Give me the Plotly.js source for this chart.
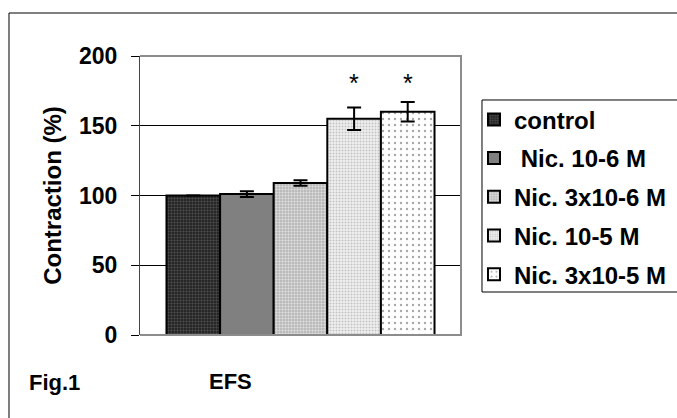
<!DOCTYPE html>
<html>
<head>
<meta charset="utf-8">
<script src="https://cdn.plot.ly/plotly-3.0.1.min.js"></script>
<style>
  html, body { margin: 0; padding: 0; background: #ffffff; overflow: hidden; }
  #wrap { width: 677px; height: 418px; overflow: hidden; position: relative; }
  #chart { width: 690px; height: 418px; }
</style>
</head>
<body>
<div id="wrap"><div id="chart"></div></div>
<script>
// ---- data ----
const categories = ['EFS'];
const seriesNames = ['control', '\u00a0Nic. 10-6 M', 'Nic. 3x10-6 M', 'Nic. 10-5 M', 'Nic. 3x10-5 M'];
const values = [100, 101, 109, 155, 160];
const errors = [0, 2, 2, 8, 7];
const significant = [false, false, false, true, true];
const starLevel = 181;
const yTickVals = [0, 50, 100, 150, 200];
const yTickText = ['0', '50', '100', '150', '200'];

// ---- styles ----
const FONT = 'Liberation Sans, Arial, Helvetica, sans-serif';
const fills = [
  {bg: '#1a1a1a', fg: '#4a4a4a', shape: '.', size: 3, solidity: 0.5},
  {bg: '#808080', fg: '#808080', shape: '', size: 3, solidity: 0.3},
  {bg: '#b0b0b0', fg: '#dcdcdc', shape: '.', size: 3, solidity: 0.5},
  {bg: '#f2f2f2', fg: '#c4c4c4', shape: '.', size: 3, solidity: 0.4},
  {bg: '#ffffff', fg: '#a8a8a8', shape: '.', size: 6, solidity: 0.12}
];
const bargap = 0.165;

const traces = seriesNames.map((name, i) => ({
  type: 'bar',
  name: name,
  x: categories,
  y: [values[i]],
  legendgroup: 'g' + i,
  marker: {
    color: fills[i].bg,
    pattern: {shape: fills[i].shape, fgcolor: fills[i].fg, bgcolor: fills[i].bg,
              size: fills[i].size, solidity: fills[i].solidity, fillmode: 'replace'},
    line: {color: '#000000', width: 2}
  },
  error_y: {type: 'data', array: [errors[i]], visible: true, color: '#000000', thickness: 2, width: 7},
  hoverinfo: 'skip'
}));

// star annotations positioned from the grouped-bar layout
const n = seriesNames.length;
const groupW = 1 - bargap;
const annotations = [];
significant.forEach((s, i) => {
  if (!s) return;
  annotations.push({
    xref: 'x', yref: 'y',
    x: -groupW / 2 + (i + 0.5) * groupW / n,
    y: starLevel,
    text: '*', showarrow: false, xanchor: 'center', yanchor: 'middle',
    font: {family: FONT, size: 25, color: '#000'}
  });
});
annotations.push({
  xref: 'paper', yref: 'paper', x: 0.283, y: -0.168, xanchor: 'center', yanchor: 'middle',
  text: categories[0], showarrow: false,
  font: {family: FONT, size: 22, color: '#000', weight: 'bold'}
});
annotations.push({
  xref: 'paper', yref: 'paper', x: -0.353, y: -0.172, xanchor: 'left', yanchor: 'middle',
  text: 'Fig.1', showarrow: false,
  font: {family: FONT, size: 22, color: '#000', weight: 'bold'}
});

const layout = {
  width: 690, height: 418,
  margin: {l: 140, r: 229, t: 56, b: 83, pad: 0},
  paper_bgcolor: '#ffffff', plot_bgcolor: '#ffffff',
  barmode: 'group', bargap: bargap, bargroupgap: 0,
  showlegend: true,
  legend: {
    x: 1.0405, xanchor: 'left', y: 0.852, yanchor: 'top',
    bgcolor: 'rgba(0,0,0,0)', borderwidth: 0,
    traceorder: 'grouped', tracegroupgap: 4.5,
    font: {family: FONT, size: 24, color: '#000', weight: 'bold'},
    itemclick: false, itemdoubleclick: false
  },
  xaxis: {
    type: 'category', showticklabels: false, ticks: '', showgrid: false,
    showline: false, zeroline: false, fixedrange: true
  },
  yaxis: {
    range: [0, 200], tickvals: yTickVals, ticktext: yTickText,
    ticks: 'outside', ticklen: 8, tickwidth: 1, tickcolor: '#000',
    ticklabelstandoff: 9,
    tickfont: {family: FONT, size: 23, color: '#000', weight: 'bold'},
    showgrid: true, gridcolor: '#000', gridwidth: 1,
    showline: true, linecolor: '#444', linewidth: 1, zeroline: false,
    title: {text: 'Contraction (%)', standoff: 10,
            font: {family: FONT, size: 24, color: '#000', weight: 'bold'}},
    fixedrange: true
  },
  shapes: [
    {type: 'path', xref: 'paper', yref: 'paper', path: 'M0,1 L1,1 L1,0 L0,0',
     line: {color: '#8c8c8c', width: 2}, layer: 'above'},
    {type: 'rect', xref: 'paper', yref: 'paper', x0: -0.4081, x1: 3, y0: -3, y1: 1.1541,
     line: {color: '#000', width: 1}, fillcolor: 'rgba(0,0,0,0)', layer: 'below'},
    {type: 'rect', xref: 'paper', yref: 'paper', x0: 1.0654, x1: 3, y0: 0.1541, y1: 0.8423,
     line: {color: '#000', width: 1}, fillcolor: 'rgba(0,0,0,0)', layer: 'above'}
  ],
  annotations: annotations
};

Plotly.newPlot('chart', traces, layout, {displayModeBar: false, staticPlot: true});
</script>
</body>
</html>
